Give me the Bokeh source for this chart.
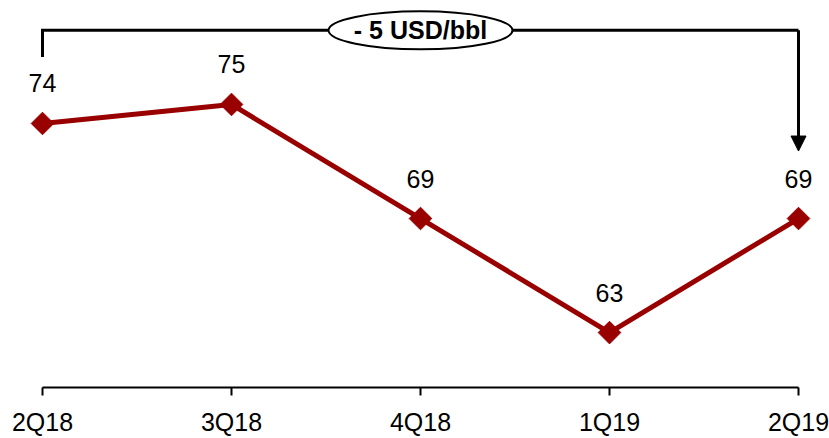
import math
from bokeh.plotting import figure
from bokeh.models import Range1d, Arrow, NormalHead, ColumnDataSource, FixedTicker
from bokeh.core.properties import value
from bokeh.embed import file_html
from bokeh.resources import INLINE

quarters = ["2Q18", "3Q18", "4Q18", "1Q19", "2Q19"]
prices = [74, 75, 69, 63, 69]
change_label = "- 5 USD/bbl"

FONT = "Liberation Sans"
RED = "#990000"

xs = list(range(len(quarters)))
src = ColumnDataSource(dict(x=xs, y=prices, lab=[str(v) for v in prices]))

p = figure(width=829, height=438, output_backend="svg", toolbar_location=None,
           x_range=Range1d(-0.2222, 4.164), y_range=Range1d(60.11, 80.47),
           min_border_left=0, min_border_right=0, min_border_top=0, min_border_bottom=51)
p.outline_line_color = None
p.grid.visible = False
p.yaxis.visible = False
p.background_fill_color = "white"

p.line("x", "y", source=src, line_color=RED, line_width=5)
p.scatter("x", "y", source=src, marker="square", angle=math.pi / 4, size=16,
          fill_color=RED, line_color=RED)
p.text("x", "y", text="lab", source=src, text_font=value(FONT), text_font_size="25px",
       text_align="center", text_baseline="middle", y_offset=-40, text_color="black")

# bracket annotation
top = max(prices) + 3.9
p.line([0, 0, len(quarters) - 1], [prices[0] + 3.5, top, top], line_color="black", line_width=3,
       line_join="miter")
p.add_layout(Arrow(end=NormalHead(size=15, fill_color="black", line_color="black"),
                   x_start=len(quarters) - 1, y_start=top, x_end=len(quarters) - 1,
                   y_end=prices[-1] + 3.55, line_color="black", line_width=3))
mid = (len(quarters) - 1) / 2
p.ellipse([mid], [top], width=184, height=38, width_units="screen", height_units="screen",
          fill_color="white", line_color="black", line_width=2)
p.text([mid], [top], text=[change_label], text_font=value(FONT), text_font_size="25px",
       text_font_style="bold", text_align="center", text_baseline="middle", text_color="black")

ax = p.xaxis[0]
ax.ticker = FixedTicker(ticks=xs)
ax.major_label_overrides = {i: q for i, q in enumerate(quarters)}
ax.bounds = (0, len(quarters) - 1)
ax.axis_line_width = 2
ax.axis_line_color = "black"
ax.major_tick_line_width = 2
ax.major_tick_line_color = "black"
ax.major_tick_in = 0
ax.major_tick_out = 8
ax.minor_tick_line_color = None
ax.major_label_standoff = 12
ax.major_label_text_font = FONT
ax.major_label_text_font_size = "25px"
ax.major_label_text_color = "black"

open("out.html", "w").write(file_html(p, INLINE))
